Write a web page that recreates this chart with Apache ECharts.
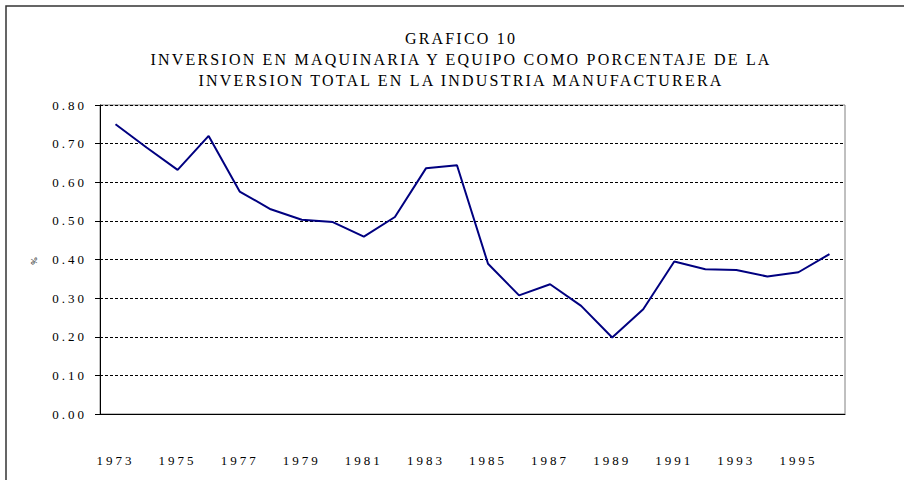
<!DOCTYPE html>
<html>
<head>
<meta charset="utf-8">
<script src="https://cdn.jsdelivr.net/npm/echarts@6/dist/echarts.min.js"></script>
<style>
    html, body { margin: 0; padding: 0; background: #fff; }
    #main { width: 904px; height: 480px; }
    #main text { letter-spacing: 3px; }
    #main text[style*="16px"] { letter-spacing: 2.2px; }
</style>
</head>
<body>
<div id="main"></div>
<script>
const years = ['1973', '1974', '1975', '1976', '1977', '1978', '1979', '1980', '1981', '1982', '1983', '1984',
    '1985', '1986', '1987', '1988', '1989', '1990', '1991', '1992', '1993', '1994', '1995', '1996'];
const values = [0.75, 0.69, 0.632, 0.72, 0.576, 0.53, 0.503, 0.497, 0.459, 0.51, 0.636, 0.644,
    0.389, 0.307, 0.336, 0.28, 0.198, 0.271, 0.395, 0.375, 0.373, 0.356, 0.367, 0.414];
const titleLines = [
    'GRAFICO 10',
    'INVERSION EN MAQUINARIA Y EQUIPO COMO PORCENTAJE DE LA',
    'INVERSION TOTAL EN LA INDUSTRIA MANUFACTURERA'
];

const serif = "'Liberation Serif', 'Times New Roman', serif";
var myChart = echarts.init(document.getElementById('main'), null, { renderer: 'svg' });

var option = {
    animation: false,
    backgroundColor: '#fff',
    title: {
        text: titleLines.join('\n'),
        left: 456,
        textAlign: 'center',
        top: 23,
        textStyle: {
            fontFamily: serif,
            fontSize: 16,
            fontWeight: 'normal',
            color: '#000',
            lineHeight: 21
        }
    },
    graphic: [{
        type: 'rect',
        shape: { x: 6, y: 6, width: 1000, height: 1000 },
        style: { fill: 'none', stroke: '#333', lineWidth: 1.5 }
    }],
    grid: {
        left: 100,
        right: 59,
        top: 105,
        bottom: 66,
        show: true,
        borderColor: '#808080',
        borderWidth: 1
    },
    xAxis: {
        type: 'category',
        data: years,
        boundaryGap: true,
        axisLine: { lineStyle: { color: '#000', width: 1 } },
        axisTick: { interval: 0, length: 5, lineStyle: { color: '#000' } },
        axisLabel: {
            interval: 1,
            margin: 40,
            fontFamily: serif,
            fontSize: 13,
            color: '#000'
        },
        splitLine: { show: false }
    },
    yAxis: {
        type: 'value',
        min: 0,
        max: 0.8,
        interval: 0.1,
        name: '%',
        nameLocation: 'middle',
        nameGap: 62,
        nameRotate: 90,
        nameTextStyle: { fontFamily: serif, fontSize: 9, color: '#000' },
        axisLine: { show: true, lineStyle: { color: '#000', width: 1 } },
        axisTick: { show: true, length: 5, lineStyle: { color: '#000' } },
        axisLabel: {
            margin: 13,
            fontFamily: serif,
            fontSize: 13,
            color: '#000',
            formatter: function (v) { return v.toFixed(2); }
        },
        splitLine: { show: true, lineStyle: { color: '#000', type: [3, 2], width: 1 } }
    },
    series: [{
        type: 'line',
        data: values,
        symbol: 'none',
        lineStyle: { color: '#000080', width: 2 }
    }]
};

option && myChart.setOption(option);
</script>
</body>
</html>
